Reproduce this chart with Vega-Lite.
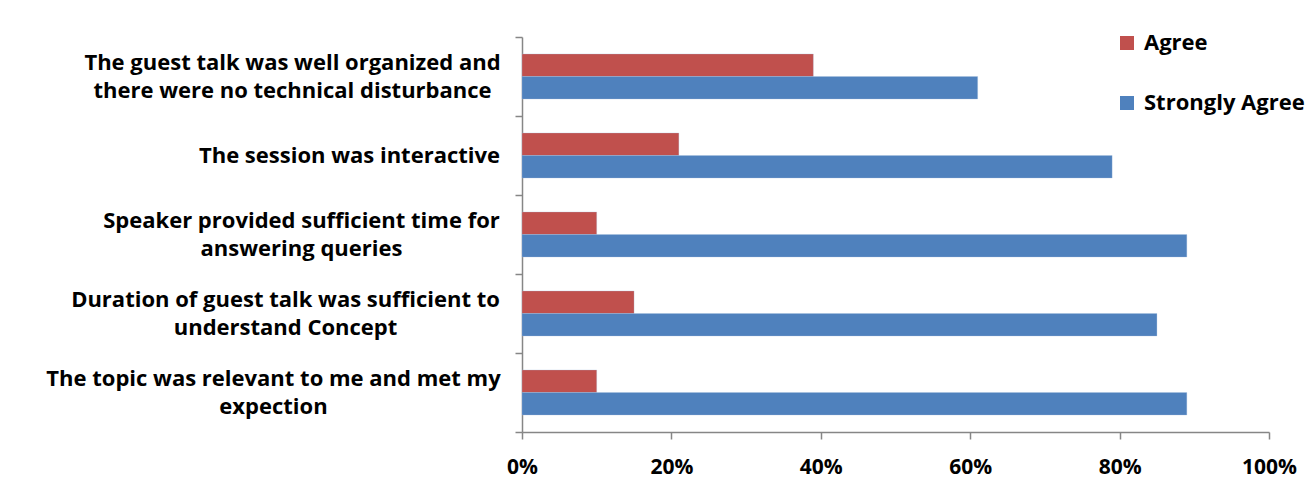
{
  "$schema": "https://vega.github.io/schema/vega-lite/v6.json",
  "width": 747,
  "height": 395,
  "autosize": {"type": "none"},
  "padding": {"left": 522, "top": 37, "right": 44, "bottom": 49},
  "background": "white",
  "config": {
    "font": "Open Sans",
    "view": {"stroke": null}
  },
  "data": {
    "values": [
      {"statement": "The guest talk was well organized and|there were no technical disturbance", "response": "Agree", "pct": 0.39},
      {"statement": "The guest talk was well organized and|there were no technical disturbance", "response": "Strongly Agree", "pct": 0.61},
      {"statement": "The session was interactive", "response": "Agree", "pct": 0.21},
      {"statement": "The session was interactive", "response": "Strongly Agree", "pct": 0.79},
      {"statement": "Speaker provided sufficient time for|answering queries", "response": "Agree", "pct": 0.10},
      {"statement": "Speaker provided sufficient time for|answering queries", "response": "Strongly Agree", "pct": 0.89},
      {"statement": "Duration of guest talk was sufficient to|understand Concept", "response": "Agree", "pct": 0.15},
      {"statement": "Duration of guest talk was sufficient to|understand Concept", "response": "Strongly Agree", "pct": 0.85},
      {"statement": "The topic was relevant to me and met my|expection", "response": "Agree", "pct": 0.10},
      {"statement": "The topic was relevant to me and met my|expection", "response": "Strongly Agree", "pct": 0.89}
    ]
  },
  "mark": {"type": "bar", "stroke": "#a9c0de", "strokeWidth": 0.5, "strokeOpacity": 0.6},
  "encoding": {
    "y": {
      "field": "statement",
      "type": "nominal",
      "sort": null,
      "scale": {"paddingInner": 0, "paddingOuter": 0},
      "axis": {
        "title": null,
        "labelExpr": "isString(datum.value) ? split(datum.value, '|') : ''",
        "labelFont": "Open Sans",
        "labelFontSize": 22,
        "labelFontWeight": "bold",
        "labelColor": "black",
        "labelLineHeight": 28,
        "labelAlign": "center",
        "labelPadding": {
          "condition": [
            {"test": "isString(datum.value) && indexof(datum.value, 'well organized') >= 0", "value": 223},
            {"test": "isString(datum.value) && indexof(datum.value, 'interactive') >= 0", "value": 166},
            {"test": "isString(datum.value) && indexof(datum.value, 'Speaker') >= 0", "value": 214},
            {"test": "isString(datum.value) && indexof(datum.value, 'Duration') >= 0", "value": 230},
            {"test": "isString(datum.value) && indexof(datum.value, 'relevant') >= 0", "value": 242}
          ],
          "value": 16
        },
        "labelLimit": 520,
        "labelOffset": {"condition": {"test": "isString(datum.value) && indexof(datum.value, '|') >= 0", "value": -14}, "value": 0},
        "tickBand": "extent",
        "tickSize": 7,
        "tickColor": "#868686",
        "tickWidth": 1.5,
        "domainColor": "#868686",
        "domainWidth": 1.5
      }
    },
    "yOffset": {
      "field": "response",
      "type": "nominal",
      "sort": ["Agree", "Strongly Agree"],
      "scale": {"paddingInner": 0, "paddingOuter": 0.755}
    },
    "x": {
      "field": "pct",
      "type": "quantitative",
      "scale": {"domain": [0, 1], "nice": false},
      "axis": {
        "title": null,
        "format": "%",
        "values": [0, 0.2, 0.4, 0.6, 0.8, 1],
        "grid": false,
        "labelFont": "Open Sans",
        "labelFontSize": 21,
        "labelFontWeight": "bold",
        "labelColor": "black",
        "labelPadding": 17,
        "labelFlush": false,
        "tickSize": 7,
        "tickColor": "#868686",
        "tickWidth": 1.5,
        "domainColor": "#868686",
        "domainWidth": 1.5
      }
    },
    "color": {
      "field": "response",
      "type": "nominal",
      "scale": {"domain": ["Agree", "Strongly Agree"], "range": ["#C0504D", "#4F81BD"]},
      "legend": {
        "title": null,
        "orient": "none",
        "legendX": 594,
        "legendY": -5,
        "symbolType": "square",
        "symbolSize": 196,
        "symbolStrokeWidth": 0,
        "labelFont": "Open Sans",
        "labelFontSize": 22,
        "labelFontWeight": "bold",
        "labelColor": "black",
        "labelOffset": 6,
        "labelLimit": 300,
        "rowPadding": 38
      }
    }
  }
}
